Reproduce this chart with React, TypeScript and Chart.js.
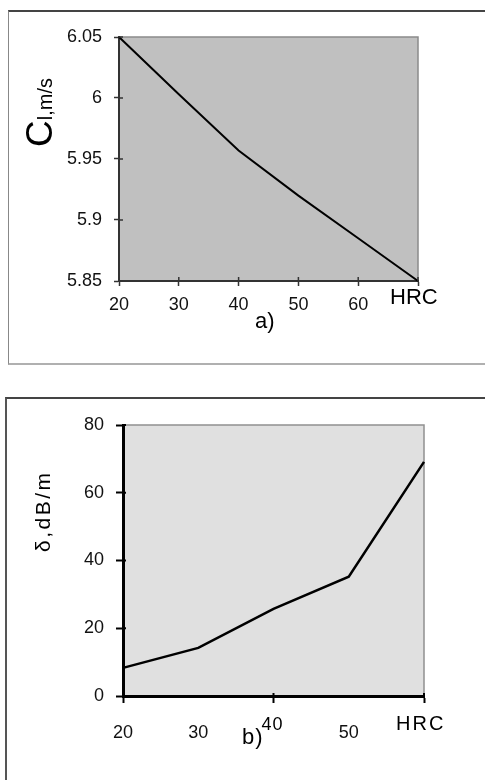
import React, { useEffect, useRef } from 'react';
import { Chart, registerables } from 'chart.js';

Chart.register(...registerables);

// ---- Chart a) : longitudinal velocity vs hardness ----
const hrcA = [20, 30, 40, 50, 60, 70];
const velocityA = [6.05, 6.003, 5.957, 5.92, 5.885, 5.85];
const xTicksA = [20, 30, 40, 50, 60, 70];
const yTicksA = [5.85, 5.9, 5.95, 6, 6.05];

// ---- Chart b) : attenuation vs hardness ----
const hrcB = [20, 30, 40, 50, 60];
const attenuationB = [8.3, 14.2, 25.7, 35.2, 69.1];
const xTicksB = [20, 30, 40, 50, 60];
const xTickMarksB = [20, 40, 60];
const yTicksB = [0, 20, 40, 60, 80];

const FONT = "'Liberation Sans', Arial, sans-serif";

function innerTicks(color: string, len: number, width: number) {
  return {
    id: 'innerTicks',
    afterDatasetsDraw(chart: any) {
      const ctx = chart.ctx;
      const { left, bottom } = chart.chartArea;
      ctx.save();
      ctx.strokeStyle = color;
      ctx.lineWidth = width;
      const xs = chart.scales.x;
      const ys = chart.scales.y;
      ys.ticks.forEach((t: any) => {
        const y = ys.getPixelForValue(t.value);
        ctx.beginPath();
        ctx.moveTo(left, y);
        ctx.lineTo(left + len, y);
        ctx.stroke();
      });
      xs.ticks.forEach((t: any) => {
        if (chart.$tickMarks && !chart.$tickMarks.includes(t.value)) return;
        const x = xs.getPixelForValue(t.value);
        ctx.beginPath();
        ctx.moveTo(x, bottom);
        ctx.lineTo(x, bottom - len);
        ctx.stroke();
      });
      ctx.restore();
    },
  };
}

function areaPlugin(fill: string, edge: string, edgeWidth: number) {
  return {
    id: 'areaBg',
    beforeDraw(chart: any) {
      const { ctx } = chart;
      const { left, top, right, bottom } = chart.chartArea;
      ctx.save();
      ctx.fillStyle = fill;
      ctx.fillRect(left, top, right - left, bottom - top);
      ctx.strokeStyle = edge;
      ctx.lineWidth = edgeWidth;
      ctx.beginPath();
      ctx.moveTo(left, top);
      ctx.lineTo(right, top);
      ctx.lineTo(right, bottom);
      ctx.stroke();
      ctx.restore();
    },
  };
}

function ChartA() {
  const ref = useRef<HTMLCanvasElement>(null);
  useEffect(() => {
    const labelsPlugin = {
      id: 'labelsA',
      afterDraw(chart: any) {
        const { ctx } = chart;
        const { right, bottom } = chart.chartArea;
        ctx.save();
        ctx.fillStyle = '#000';
        ctx.textBaseline = 'alphabetic';
        ctx.textAlign = 'left';
        ctx.font = `22px ${FONT}`;
        ctx.fillText('HRC', right - 28, bottom + 23);
        ctx.fillText('a)', 255, bottom + 47);
        // rotated y title: C with smaller l,m/s
        ctx.translate(52, 147);
        ctx.rotate(-Math.PI / 2);
        ctx.font = `37px ${FONT}`;
        ctx.fillText('C', 0, 0);
        const w = ctx.measureText('C').width;
        ctx.font = `20px ${FONT}`;
        ctx.fillText('l,m/s', w, 0);
        ctx.restore();
      },
    };
    const chart = new Chart(ref.current!, {
      type: 'line',
      data: {
        datasets: [
          {
            data: hrcA.map((x, i) => ({ x, y: velocityA[i] })),
            borderColor: '#000',
            borderWidth: 2,
            pointRadius: 0,
            tension: 0,
            clip: false as any,
          },
        ],
      },
      options: {
        animation: false,
        responsive: false,
        events: [],
        layout: { padding: { left: 0, top: 37, right: 67, bottom: 59 } },
        plugins: { legend: { display: false }, tooltip: { enabled: false } },
        scales: {
          x: {
            type: 'linear',
            min: 20,
            max: 70,
            afterBuildTicks: (s: any) => {
              s.ticks = xTicksA.map((v) => ({ value: v }));
            },
            afterFit: (s: any) => {
              s.height = 50;
            },
            border: { color: '#333', width: 2 },
            grid: {
              drawOnChartArea: false,
              drawTicks: true,
              tickLength: 5,
              tickWidth: 1.5,
              tickColor: '#333',
            },
            ticks: {
              padding: 8,
              color: '#111',
              maxRotation: 0,
              font: { family: FONT, size: 18 },
              callback: (v: any) => (v === 70 ? '' : String(v)),
            },
          },
          y: {
            type: 'linear',
            min: 5.85,
            max: 6.05,
            afterBuildTicks: (s: any) => {
              s.ticks = yTicksA.map((v) => ({ value: v }));
            },
            afterFit: (s: any) => {
              s.width = 119;
            },
            border: { color: '#333', width: 2 },
            grid: {
              drawOnChartArea: false,
              drawTicks: true,
              tickLength: 5,
              tickWidth: 1.5,
              tickColor: '#333',
            },
            ticks: {
              padding: 12,
              color: '#111',
              font: { family: FONT, size: 18 },
              callback: (v: any) => String(Number(Number(v).toFixed(2))),
            },
          },
        },
      } as any,
      plugins: [areaPlugin('#c0c0c0', '#8a8a8a', 1.5), innerTicks('#333', 4, 1.5), labelsPlugin],
    });
    return () => chart.destroy();
  }, []);
  return (
    <canvas
      ref={ref}
      width={485}
      height={390}
      style={{ position: 'absolute', left: 0, top: 0, width: 485, height: 390 }}
    />
  );
}

function ChartB() {
  const ref = useRef<HTMLCanvasElement>(null);
  useEffect(() => {
    const labelsPlugin = {
      id: 'labelsB',
      afterDraw(chart: any) {
        const { ctx } = chart;
        const { right, bottom } = chart.chartArea;
        const xs = chart.scales.x;
        ctx.save();
        ctx.fillStyle = '#000';
        ctx.textBaseline = 'alphabetic';
        ctx.textAlign = 'left';
        (ctx as any).letterSpacing = '2px';
        ctx.font = `20px ${FONT}`;
        ctx.fillText('HRC', right - 28, bottom + 34);
        (ctx as any).letterSpacing = '1px';
        ctx.font = `22px ${FONT}`;
        ctx.fillText('b)', 242, bottom + 48);
        ctx.font = `18px ${FONT}`;
        ctx.textAlign = 'center';
        ctx.fillText('40', xs.getPixelForValue(40) - 1, bottom + 34);
        // rotated y title
        ctx.textAlign = 'left';
        (ctx as any).letterSpacing = '2.5px';
        ctx.translate(50, 162);
        ctx.rotate(-Math.PI / 2);
        ctx.font = `21px ${FONT}`;
        ctx.fillText('\u03B4,dB/m', 0, 0);
        ctx.restore();
      },
    };
    const chart: any = new Chart(ref.current!, {
      type: 'line',
      data: {
        datasets: [
          {
            data: hrcB.map((x, i) => ({ x, y: attenuationB[i] })),
            borderColor: '#000',
            borderWidth: 2.5,
            pointRadius: 0,
            tension: 0,
            clip: false as any,
          },
        ],
      },
      options: {
        animation: false,
        responsive: false,
        events: [],
        layout: { padding: { left: 0, top: 35, right: 61, bottom: 24 } },
        plugins: { legend: { display: false }, tooltip: { enabled: false } },
        scales: {
          x: {
            type: 'linear',
            min: 20,
            max: 60,
            afterBuildTicks: (s: any) => {
              s.ticks = xTicksB.map((v) => ({ value: v }));
            },
            afterFit: (s: any) => {
              s.height = 60;
            },
            border: { color: '#000', width: 3 },
            grid: {
              drawOnChartArea: false,
              drawTicks: true,
              tickLength: 7,
              tickWidth: 2,
              tickColor: (c: any) =>
                c.tick && xTickMarksB.includes(c.tick.value) ? '#000' : 'rgba(0,0,0,0)',
            },
            ticks: {
              padding: 19,
              color: '#111',
              maxRotation: 0,
              font: { family: FONT, size: 18 },
              callback: (v: any) => (v === 40 || v === 60 ? '' : String(v)),
            },
          },
          y: {
            type: 'linear',
            min: 0,
            max: 80,
            afterBuildTicks: (s: any) => {
              s.ticks = yTicksB.map((v) => ({ value: v }));
            },
            afterFit: (s: any) => {
              s.width = 123;
            },
            border: { color: '#000', width: 3 },
            grid: {
              drawOnChartArea: false,
              drawTicks: true,
              tickLength: 7,
              tickWidth: 2,
              tickColor: '#000',
            },
            ticks: {
              padding: 12,
              color: '#111',
              font: { family: FONT, size: 18 },
              callback: (v: any) => String(v),
            },
          },
        },
      } as any,
      plugins: [areaPlugin('#e0e0e0', '#909090', 1.5), innerTicks('#000', 3, 2), labelsPlugin],
    });
    chart.$tickMarks = xTickMarksB;
    chart.draw();
    return () => chart.destroy();
  }, []);
  return (
    <canvas
      ref={ref}
      width={485}
      height={390}
      style={{ position: 'absolute', left: 0, top: 390, width: 485, height: 390 }}
    />
  );
}

export default function App() {
  return (
    <div style={{ position: 'absolute', left: 0, top: 0, width: 485, height: 780, overflow: 'hidden', background: '#fff' }}>
      <div
        style={{
          position: 'absolute',
          left: 8,
          top: 10,
          width: 485,
          height: 351,
          borderTop: '2px solid #444',
          borderLeft: '1px solid #888',
          borderBottom: '2px solid #b0b0b0',
        }}
      />
      <div
        style={{
          position: 'absolute',
          left: 5,
          top: 397,
          width: 485,
          height: 400,
          borderTop: '2px solid #444',
          borderLeft: '2px solid #555',
        }}
      />
      <ChartA />
      <ChartB />
    </div>
  );
}
